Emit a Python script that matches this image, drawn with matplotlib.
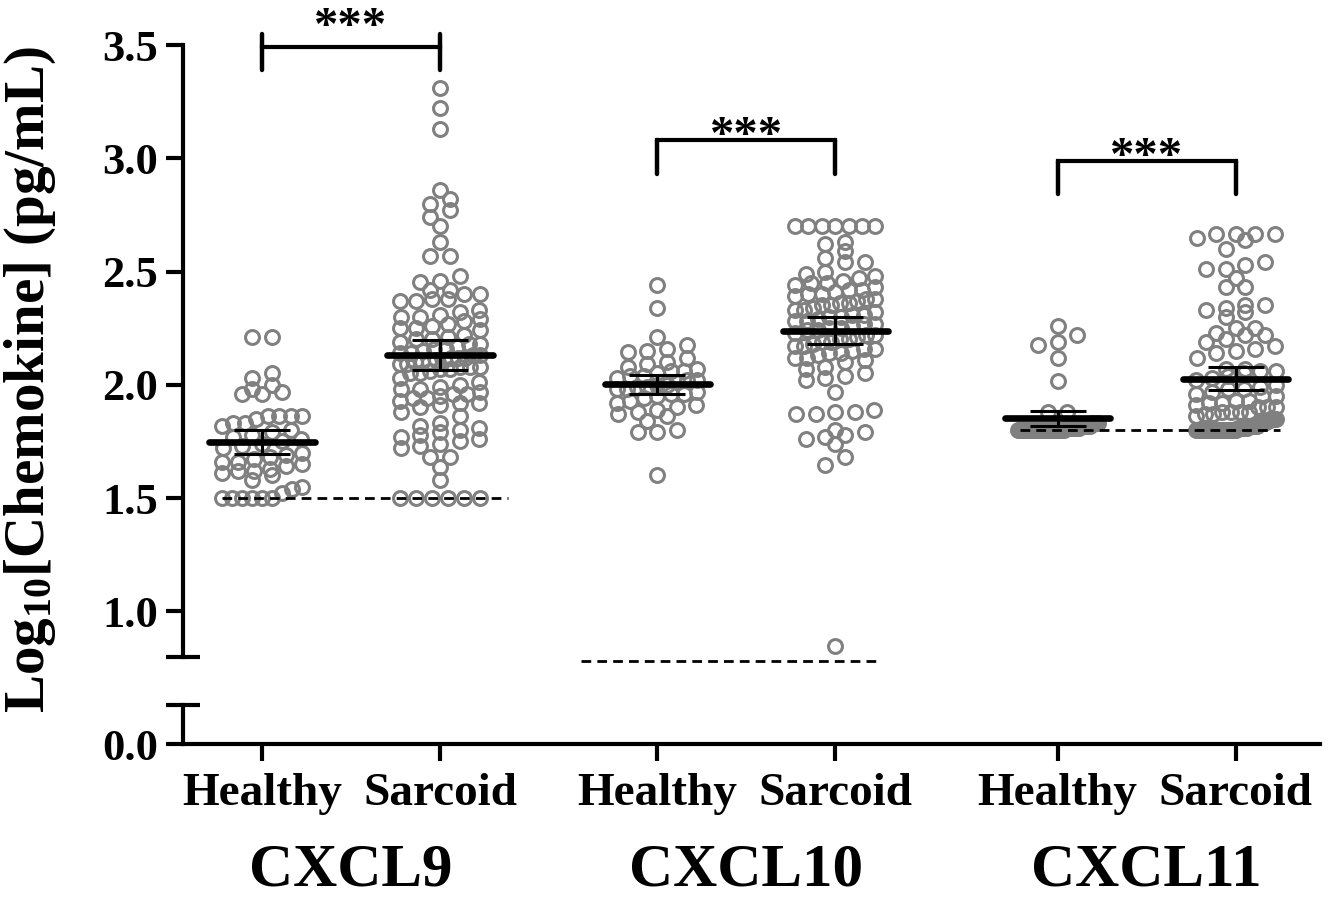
import numpy as np
import matplotlib
matplotlib.use('Agg')
import matplotlib.pyplot as plt
from matplotlib.transforms import blended_transform_factory

plt.rcParams['font.family'] = 'Liberation Serif'
plt.rcParams['font.weight'] = 'bold'
plt.rcParams['mathtext.fontset'] = 'custom'
plt.rcParams['mathtext.rm'] = 'Liberation Serif:bold'
plt.rcParams['mathtext.bf'] = 'Liberation Serif:bold'
plt.rcParams['mathtext.it'] = 'Liberation Serif:bold:italic'

# ---- data (log10 pg/mL) ----
groups = ['CXCL9', 'CXCL10', 'CXCL11']
conditions = ['Healthy', 'Sarcoid']
positions = [0, 1, 2.22, 3.22, 4.47, 5.47]

cxcl9_healthy = [2.21, 2.21, 2.05, 2.03, 2.00, 1.97, 1.96, 1.96, 1.98,
                 1.86, 1.86, 1.86, 1.86, 1.85, 1.83, 1.83, 1.82, 1.80, 1.79,
                 1.78, 1.77, 1.76, 1.75, 1.74, 1.73, 1.72, 1.70, 1.69, 1.68,
                 1.67, 1.66, 1.66, 1.65, 1.64, 1.63, 1.62, 1.62, 1.61, 1.60,
                 1.58, 1.55, 1.54, 1.52, 1.50, 1.50, 1.50, 1.50, 1.50, 1.50]
cxcl9_sarcoid = [3.31, 3.22, 3.13, 2.86, 2.82, 2.80, 2.77, 2.74, 2.70, 2.63,
                 2.57, 2.57, 2.48, 2.46, 2.455, 2.42, 2.42, 2.40, 2.40, 2.38,
                 2.38, 2.37, 2.37, 2.33, 2.32, 2.31, 2.30, 2.30, 2.29, 2.28,
                 2.27, 2.26, 2.25, 2.25, 2.24, 2.22, 2.21, 2.20, 2.20, 2.19,
                 2.18, 2.18, 2.17, 2.16, 2.16, 2.15, 2.14, 2.14, 2.13, 2.13,
                 2.12, 2.12, 2.12, 2.11, 2.11, 2.10, 2.10, 2.10, 2.09, 2.09,
                 2.08, 2.08, 2.08, 2.07, 2.07, 2.06, 2.05, 2.05, 2.03, 2.01,
                 2.00, 1.99, 1.98, 1.98, 1.97, 1.96, 1.96, 1.95, 1.94, 1.94,
                 1.93, 1.92, 1.92, 1.91, 1.90, 1.88, 1.86, 1.83, 1.82, 1.81,
                 1.80, 1.79, 1.78, 1.77, 1.76, 1.75, 1.74, 1.73, 1.72, 1.68,
                 1.68, 1.635, 1.58, 1.50, 1.50, 1.50, 1.50, 1.50, 1.50]
cxcl10_healthy = [2.44, 2.34, 2.21, 2.175, 2.16, 2.15, 2.145, 2.12, 2.10,
                  2.09, 2.08, 2.07, 2.06, 2.06, 2.05, 2.04, 2.04, 2.03, 2.02,
                  2.02, 2.01, 2.00, 2.00, 1.99, 1.99, 1.98, 1.98, 1.97, 1.96,
                  1.96, 1.95, 1.94, 1.93, 1.92, 1.91, 1.90, 1.89, 1.88, 1.87,
                  1.86, 1.84, 1.80, 1.79, 1.79, 1.60]
cxcl10_sarcoid = [2.70, 2.70, 2.70, 2.70, 2.70, 2.70, 2.70, 2.63, 2.62, 2.59,
                  2.56, 2.54, 2.54, 2.50, 2.49, 2.48, 2.47, 2.46, 2.45, 2.45,
                  2.44, 2.43, 2.42, 2.42, 2.41, 2.40, 2.40, 2.39, 2.38, 2.38,
                  2.37, 2.36, 2.36, 2.35, 2.35, 2.34, 2.33, 2.33, 2.32, 2.31,
                  2.31, 2.30, 2.30, 2.29, 2.28, 2.28, 2.27, 2.27, 2.26, 2.25,
                  2.25, 2.24, 2.24, 2.23, 2.22, 2.22, 2.21, 2.20, 2.20, 2.19,
                  2.19, 2.18, 2.17, 2.17, 2.16, 2.16, 2.15, 2.14, 2.14, 2.13,
                  2.12, 2.12, 2.11, 2.10, 2.08, 2.07, 2.05, 2.04, 2.03, 2.02,
                  1.97, 1.89, 1.88, 1.88, 1.87, 1.87, 1.80, 1.79, 1.78, 1.77,
                  1.76, 1.74, 1.68, 1.645, 0.845]
cxcl11_healthy = [2.26, 2.22, 2.19, 2.175, 2.12, 2.015, 1.88, 1.88,
                  1.83, 1.83, 1.83, 1.83, 1.82, 1.82, 1.82, 1.82, 1.82, 1.82,
                  1.81, 1.81, 1.81, 1.81, 1.81, 1.81, 1.81, 1.81,
                  1.80, 1.80, 1.80, 1.80, 1.80, 1.80, 1.80, 1.80, 1.80, 1.80,
                  1.80, 1.80, 1.80, 1.80, 1.80, 1.80, 1.80, 1.80, 1.80, 1.80,
                  1.80, 1.80, 1.80, 1.80, 1.80, 1.80]
cxcl11_sarcoid = [2.665, 2.665, 2.665, 2.665, 2.65, 2.64, 2.60, 2.54, 2.53,
                  2.51, 2.51, 2.47, 2.43, 2.43, 2.35, 2.35, 2.34, 2.33, 2.32,
                  2.30, 2.25, 2.25, 2.23, 2.22, 2.22, 2.20, 2.19, 2.17, 2.16,
                  2.15, 2.14, 2.12, 2.07, 2.07, 2.06, 2.06, 2.05, 2.04, 2.03,
                  2.02, 2.00, 1.99, 1.98, 1.98, 1.97, 1.96, 1.95, 1.95, 1.93,
                  1.93, 1.92, 1.92, 1.91, 1.90, 1.90, 1.90, 1.88, 1.88, 1.88,
                  1.88, 1.87, 1.87, 1.86, 1.85, 1.85, 1.85, 1.85, 1.84, 1.84,
                  1.83, 1.83, 1.83, 1.83, 1.82, 1.82, 1.82, 1.82, 1.82,
                  1.81, 1.81, 1.81, 1.81, 1.81, 1.81,
                  1.80, 1.80, 1.80, 1.80, 1.80, 1.80, 1.80, 1.80, 1.80, 1.80,
                  1.80, 1.80, 1.80, 1.80, 1.80, 1.80, 1.80, 1.80, 1.80, 1.80,
                  1.80, 1.80]
series = [cxcl9_healthy, cxcl9_sarcoid, cxcl10_healthy,
          cxcl10_sarcoid, cxcl11_healthy, cxcl11_sarcoid]

# detection limits (dashed lines) and significance
lod_values = [1.50, 0.78, 1.80]
lod_spans = [(-0.225, 1.38), (1.79, 3.47), (4.26, 5.72)]
sig_labels = ['***', '***', '***']
sig_heights = [3.49, 3.08, 2.99]

GRAY = '#808080'

# ---- figure / broken axis geometry (pixels) ----
W, H = 1330, 902
px_per_unit = 226.5
y35_px = 45          # pixel row of 3.5
top_px, brk_px = 20, 670
low_top_px, zero_px = 705, 744
left_px, right_px = 183, 1320
x0_px, x_unit_px = 262, 178

xlim = ((left_px - x0_px) / x_unit_px, (right_px - x0_px) / x_unit_px)
up_ylim = (3.5 - (brk_px - y35_px) / px_per_unit, 3.5 + (y35_px - top_px) / px_per_unit)
low_ylim = (0, (zero_px - low_top_px) / px_per_unit)

fig = plt.figure(figsize=(W / 100, H / 100), dpi=100)
ax = fig.add_axes([left_px / W, (H - brk_px) / H, (right_px - left_px) / W, (brk_px - top_px) / H])
axl = fig.add_axes([left_px / W, (H - zero_px) / H, (right_px - left_px) / W, (zero_px - low_top_px) / H])

for a in (ax, axl):
    a.set_xlim(*xlim)
    a.patch.set_alpha(0)
    for s in ('top', 'right'):
        a.spines[s].set_visible(False)
    a.spines['left'].set_linewidth(3)
    a.spines['bottom'].set_linewidth(3)
    a.tick_params(axis='y', which='major', direction='out', length=12, width=3,
                  labelsize=32, pad=6)
    a.tick_params(axis='y', which='minor', direction='inout', length=24, width=3)
ax.set_ylim(*up_ylim)
axl.set_ylim(*low_ylim)

ax.spines['bottom'].set_visible(False)
ax.spines['left'].set_bounds(0.8, 3.5)
ax.set_xticks([])
ax.set_yticks([1.0, 1.5, 2.0, 2.5, 3.0, 3.5])
ax.set_yticks([0.8], minor=True)
ax.set_yticklabels(['1.0', '1.5', '2.0', '2.5', '3.0', '3.5'])

axl.set_yticks([0.0])
axl.set_yticklabels(['0.0'])
axl.set_yticks([low_ylim[1]], minor=True)
axl.set_xticks(positions)
axl.set_xticklabels(conditions * 3, fontsize=34)
axl.tick_params(axis='x', direction='out', length=12, width=3, pad=9)


def swarm_offsets(vals, bin_h=0.053, step=0.11, max_half=0.225):
    vals = np.asarray(vals, dtype=float)
    offs = np.zeros(len(vals))
    bins = np.floor((vals - vals.min()) / bin_h + 1e-9).astype(int)
    for b in np.unique(bins):
        idx = np.where(bins == b)[0]
        idx = idx[np.argsort(vals[idx], kind='stable')]
        n = len(idx)
        if n < 2:
            continue
        s = min(step, 2 * max_half / (n - 1))
        offs[idx] = (np.arange(n) - (n - 1) / 2) * s
    return offs


for pos, vals in zip(positions, series):
    vals = np.asarray(vals)
    xs = pos + swarm_offsets(vals)
    ax.plot(xs, vals, 'o', ms=10, mfc='none', mec=GRAY, mew=2.2, zorder=2, clip_on=False)
    m = vals.mean()
    ci = 1.96 * vals.std(ddof=1) / np.sqrt(len(vals))
    ax.plot([pos - 0.295, pos + 0.295], [m, m], color='black', lw=4.8,
            solid_capstyle='round', zorder=4)
    ax.errorbar(pos, m, yerr=ci, fmt='none', ecolor='black', elinewidth=2.2,
                capsize=20, capthick=2.2, zorder=4)

for lod, (x1, x2) in zip(lod_values, lod_spans):
    ax.plot([x1, x2], [lod, lod], color='black', lw=2, dashes=(3.5, 2.2), zorder=3,
            clip_on=False)

for i, (lab, h) in enumerate(zip(sig_labels, sig_heights)):
    x1, x2 = positions[2 * i], positions[2 * i + 1]
    ax.plot([x1, x2], [h, h], color='black', lw=3, clip_on=False)
    if i == 0:
        for xx in (x1, x2):
            ax.plot([xx, xx], [h + 0.06, h - 0.1], color='black', lw=3.2,
                    solid_capstyle='round', clip_on=False)
        ty = h - 0.01
    else:
        for xx in (x1, x2):
            ax.plot([xx, xx], [h, h - 0.15], color='black', lw=3.2,
                    solid_capstyle='round', clip_on=False)
        ty = h - 0.085
    ax.text((x1 + x2) / 2, ty, lab, ha='center', va='bottom',
            fontsize=35, clip_on=False)

trans = blended_transform_factory(axl.transData, fig.transFigure)
for i, g in enumerate(groups):
    xc = (positions[2 * i] + positions[2 * i + 1]) / 2
    fig.text(xc, 1 - 870 / H, g, transform=trans, ha='center', va='center',
             fontsize=44)

fig.text(30 / W, 1 - 380 / H, 'Log$_{10}$[Chemokine] (pg/mL)', rotation=90,
         ha='center', va='center', fontsize=41)

fig.savefig('out.png', dpi=100)
